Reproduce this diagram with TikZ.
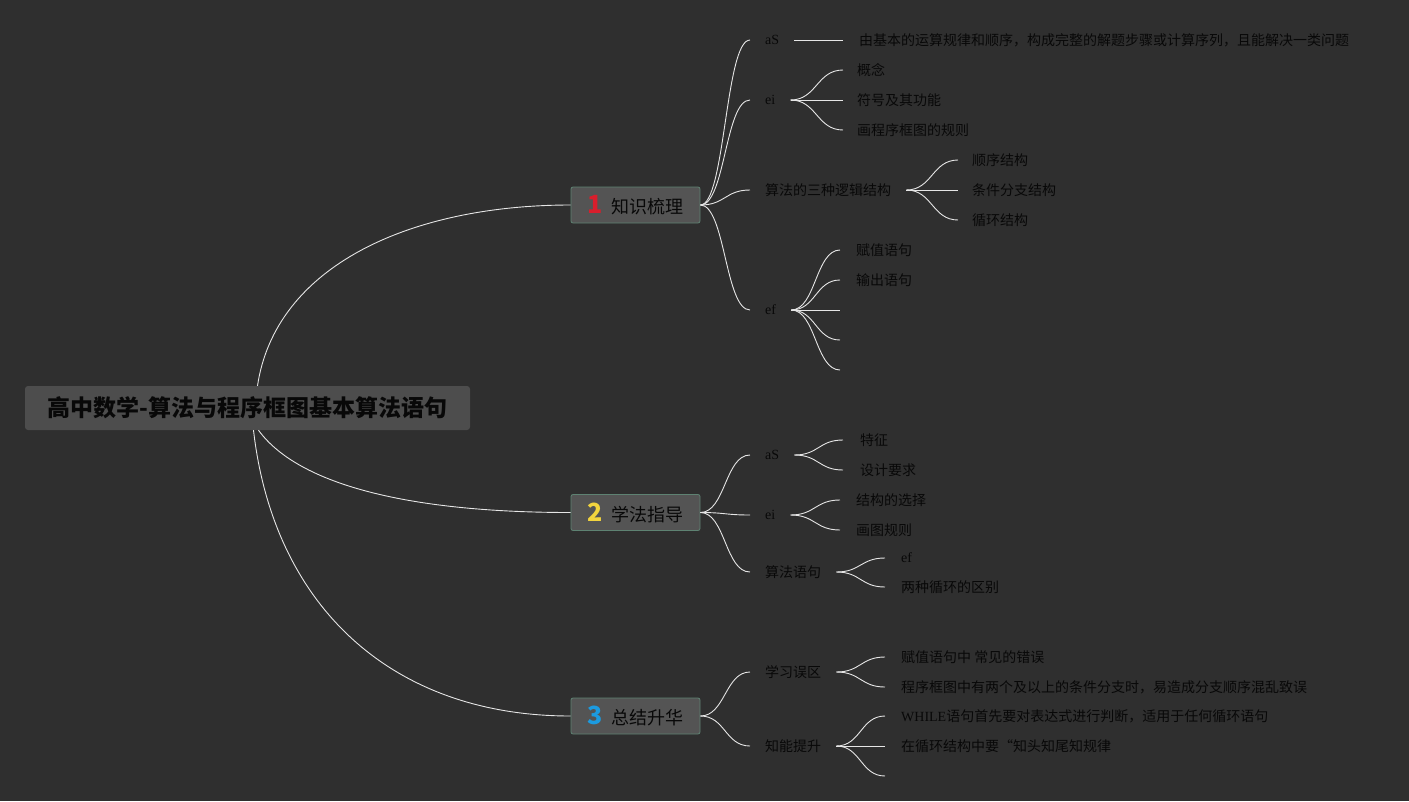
\documentclass[tikz,border=0pt]{standalone}
\usepackage{fontspec}
\setmainfont{Noto Sans CJK SC}
\newfontfamily\lat{Liberation Serif}
\usetikzlibrary{calc}
\definecolor{bgc}{HTML}{2F2F2F}
\definecolor{rootfill}{HTML}{4D4D4D}
\definecolor{boxfill}{HTML}{545454}
\definecolor{boxline}{HTML}{5E8272}
\definecolor{txt}{HTML}{080808}
\definecolor{linec}{HTML}{E6E6E6}
\definecolor{numred}{HTML}{D81E2C}
\definecolor{numyellow}{HTML}{F2D43E}
\definecolor{numblue}{HTML}{1C9BE0}
\tikzset{
  rootbox/.style={fill=rootfill, rounded corners=3pt, minimum width=445pt, minimum height=44pt, inner sep=0pt, text=txt, font=\fontsize{23}{26}\selectfont\bfseries},
  mainbox/.style={fill=boxfill, draw=boxline, line width=0.8pt, rounded corners=2pt, minimum width=129pt, minimum height=36pt, inner sep=0pt, text=txt, font=\fontsize{18}{20}\selectfont},
  lvtwo/.style={anchor=west, inner xsep=15pt, inner ysep=0pt, text=txt, font=\fontsize{14}{16}\selectfont},
  lvthree/.style={anchor=west, inner xsep=14pt, inner ysep=0pt, text=txt, font=\fontsize{14}{16}\selectfont},
  conn/.style={draw=linec, line width=0.9pt},
  mm/.style={to path={let \p1=(\tikztostart), \p2=(\tikztotarget), \p3=($(\p1)!0.5!(\p2)$) in .. controls (\x3,\y1) and (\x3,\y2) .. (\p2) \tikztonodes}}
}
\newcommand{\numlab}[2]{{\fontsize{25}{26}\selectfont\bfseries\textcolor{#1}{#2}}\hspace{8pt}}
\begin{document}
\begin{tikzpicture}[x=1pt,y=-1pt]
\fill[bgc] (0,0) rectangle (1409,801);
\useasboundingbox (0,0) rectangle (1409,801);

% root
\node[rootbox] (root) at (247.5,408) {高中数学-算法与程序框图基本算法语句};

% main boxes
\node[mainbox] (b1) at (635.5,205) {\numlab{numred}{1}知识梳理};
\node[mainbox] (b2) at (635.5,512.5) {\numlab{numyellow}{2}学法指导};
\node[mainbox] (b3) at (635.5,716) {\numlab{numblue}{3}总结升华};

\draw[conn] ([xshift=10pt]root.north) .. controls +(18,-120) and +(-160,0) .. (b1.west);
\draw[conn] ([xshift=11pt]root.south) .. controls +(40,55) and +(-160,0) .. (b2.west);
\draw[conn] ([xshift=6pt]root.south) .. controls +(20,175) and +(-180,0) .. (b3.west);

% ---------- branch 1 ----------
\node[lvtwo] (a1) at (750,40) {\lat aS};
\node[lvtwo] (a2) at (750,100) {\lat ei};
\node[lvtwo] (a3) at (750,190) {算法的三种逻辑结构};
\node[lvtwo] (a4) at (750,310) {\lat ef};
\foreach \k in {a1,a2,a3,a4} \draw[conn] (b1.east) to[mm] (\k.west);

\node[lvthree, inner xsep=16pt] (a1a) at (843,40) {由基本的运算规律和顺序，构成完整的解题步骤或计算序列，且能解决一类问题};
\draw[conn] (a1.east) to[mm] (a1a.west);

\node[lvthree] (a2a) at (843,70) {概念};
\node[lvthree] (a2b) at (843,100) {符号及其功能};
\node[lvthree] (a2c) at (843,130) {画程序框图的规则};
\foreach \k in {a2a,a2b,a2c} \draw[conn] (a2.east) to[mm] (\k.west);

\node[lvthree] (a3a) at (958,160) {顺序结构};
\node[lvthree] (a3b) at (958,190) {条件分支结构};
\node[lvthree] (a3c) at (958,220) {循环结构};
\foreach \k in {a3a,a3b,a3c} \draw[conn] (a3.east) to[mm] (\k.west);

\node[lvthree, inner xsep=16pt] (a4a) at (840,250) {赋值语句};
\node[lvthree, inner xsep=16pt] (a4b) at (840,280) {输出语句};
\coordinate (a4c) at (840,310);
\coordinate (a4d) at (840,340);
\coordinate (a4e) at (840,370);
\draw[conn] (a4.east) to[mm] (a4a.west);
\draw[conn] (a4.east) to[mm] (a4b.west);
\draw[conn] (a4.east) to[mm] (a4c);
\draw[conn] (a4.east) to[mm] (a4d);
\draw[conn] (a4.east) to[mm] (a4e);

% ---------- branch 2 ----------
\node[lvtwo] (c1) at (750,455) {\lat aS};
\node[lvtwo] (c2) at (750,515) {\lat ei};
\node[lvtwo] (c3) at (750,572) {算法语句};
\foreach \k in {c1,c2,c3} \draw[conn] (b2.east) to[mm] (\k.west);

\node[lvthree, inner xsep=17pt] (c1a) at (843,440) {特征};
\node[lvthree, inner xsep=17pt] (c1b) at (843,470) {设计要求};
\foreach \k in {c1a,c1b} \draw[conn] (c1.east) to[mm] (\k.west);

\node[lvthree, inner xsep=16pt] (c2a) at (840,500) {结构的选择};
\node[lvthree, inner xsep=16pt] (c2b) at (840,530) {画图规则};
\foreach \k in {c2a,c2b} \draw[conn] (c2.east) to[mm] (\k.west);

\node[lvthree, inner xsep=16pt] (c3a) at (885,558) {\lat ef};
\node[lvthree, inner xsep=16pt] (c3b) at (885,587) {两种循环的区别};
\foreach \k in {c3a,c3b} \draw[conn] (c3.east) to[mm] (\k.west);

% ---------- branch 3 ----------
\node[lvtwo] (d1) at (750,672) {学习误区};
\node[lvtwo] (d2) at (750,746) {知能提升};
\foreach \k in {d1,d2} \draw[conn] (b3.east) to[mm] (\k.west);

\node[lvthree, inner xsep=16pt] (d1a) at (885,657) {赋值语句中 常见的错误};
\node[lvthree, inner xsep=16pt] (d1b) at (885,687) {程序框图中有两个及以上的条件分支时，易造成分支顺序混乱致误};
\foreach \k in {d1a,d1b} \draw[conn] (d1.east) to[mm] (\k.west);

\node[lvthree, inner xsep=16pt] (d2a) at (885,716) {{\lat WHILE}语句首先要对表达式进行判断，适用于任何循环语句};
\node[lvthree, inner xsep=16pt] (d2b) at (885,746) {在循环结构中要“知头知尾知规律};
\coordinate (d2c) at (885,776);
\draw[conn] (d2.east) to[mm] (d2a.west);
\draw[conn] (d2.east) to[mm] (d2b.west);
\draw[conn] (d2.east) to[mm] (d2c);
\end{tikzpicture}
\end{document}
